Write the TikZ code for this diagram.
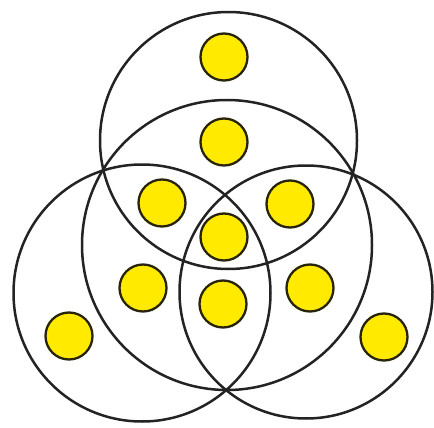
\documentclass[tikz,border=0pt]{standalone}
\begin{document}
\begin{tikzpicture}[x=1pt,y=-1pt]
\definecolor{dotyellow}{RGB}{255,234,0}
\definecolor{ringgray}{RGB}{35,35,35}
\definecolor{dotedge}{RGB}{40,36,10}
\tikzset{
  ring/.style={draw=ringgray,line width=2.5pt},
  dot/.style={circle,draw=dotedge,fill=dotyellow,line width=2.3pt,minimum size=47pt,inner sep=0pt}
}
\useasboundingbox[fill=white] (0,0) rectangle (434,428);
% large circles
\draw[ring] (228.5,140.5) circle (128.5);
\draw[ring] (227,245) circle (145);
\draw[ring] (142,293) circle (128.5);
\draw[ring] (306,292) circle (126.5);
% yellow dots
\node[dot] (d1) at (224,57) {};
\node[dot] (d2) at (224,142) {};
\node[dot] (d3) at (162,203) {};
\node[dot] (d4) at (290,204) {};
\node[dot] (d5) at (224,237) {};
\node[dot] (d6) at (143,288) {};
\node[dot] (d7) at (223,304) {};
\node[dot] (d8) at (310,288) {};
\node[dot] (d9) at (69,336) {};
\node[dot] (d10) at (384,337) {};
\end{tikzpicture}
\end{document}
